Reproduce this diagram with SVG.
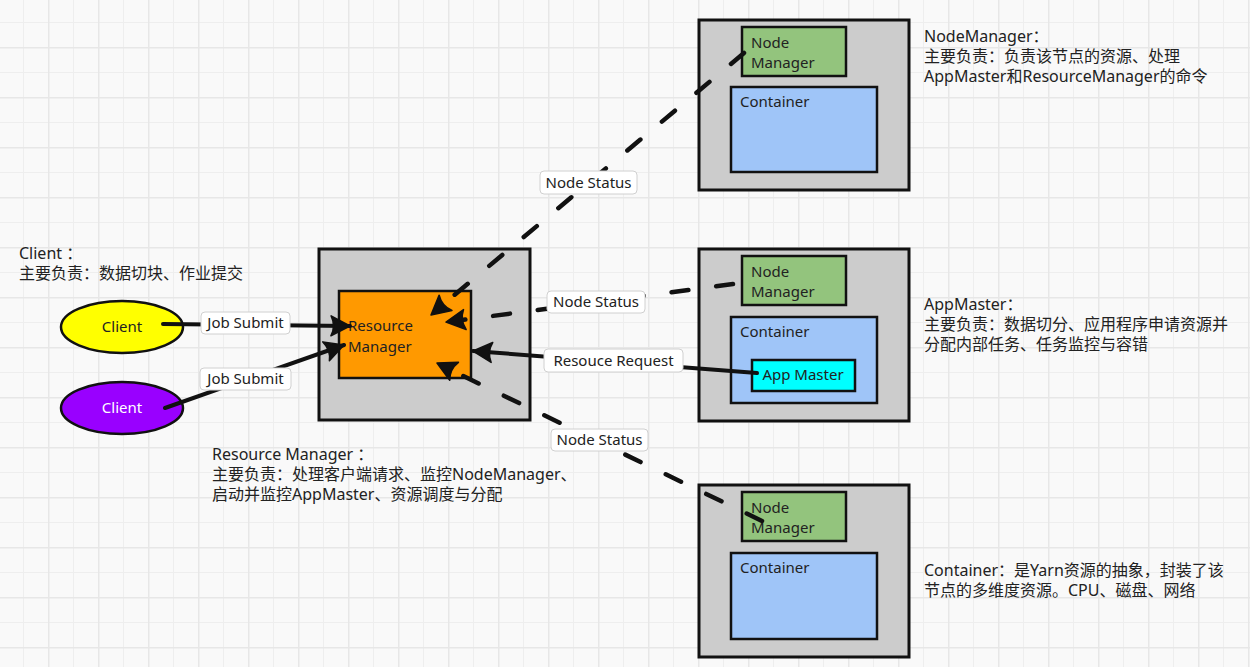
<svg xmlns="http://www.w3.org/2000/svg" width="1250" height="667" viewBox="0 0 1250 667">
<style>
text{font-family:"Noto Sans","Noto Sans CJK SC",sans-serif;fill:#222;}
.desc{font-size:16px;}
.lbl{font-size:15px;}
.nt{font-size:15px;}
.outer{fill:#cccccc;stroke:#111;stroke-width:3;}
.nm{fill:#93c47d;stroke:#111;stroke-width:2.5;}
.ct{fill:#9fc5f8;stroke:#111;stroke-width:2.5;}
.lbox{fill:#fff;stroke:#d0d0d0;stroke-width:1;}
.dash{fill:none;stroke:#111;stroke-width:4.5;stroke-linecap:round;stroke-dasharray:17 28;}
.solid{fill:none;stroke:#111;stroke-width:4;stroke-linecap:round;}
.head{fill:#111;stroke:#111;stroke-width:1.5;stroke-linejoin:round;}
</style>
<defs>
<pattern id="grid" patternUnits="userSpaceOnUse" x="48" y="47" width="50" height="50">
<rect x="0" y="0" width="50" height="50" fill="#f9f9f9"/>
<rect x="25" y="0" width="1" height="50" fill="#eeeeee"/>
<rect x="0" y="25" width="50" height="1" fill="#eeeeee"/>
<rect x="0" y="0" width="1.5" height="50" fill="#e7e7e7"/>
<rect x="0" y="0" width="50" height="1.5" fill="#e7e7e7"/>
</pattern>
<path id="headshape" class="head" d="M0 0 L-19 -10 Q-14 0 -19 10 Z"/>
<marker id="ah" markerUnits="userSpaceOnUse" markerWidth="28" markerHeight="28" viewBox="-24 -14 28 28" refX="0" refY="0" orient="auto">
<path class="head" d="M0 0 L-19 -10 Q-14 0 -19 10 Z"/>
</marker>
</defs>
<rect width="1250" height="667" fill="url(#grid)"/>

<g id="rm">
<rect class="outer" x="319" y="249" width="211" height="171"/>
<rect x="339" y="291" width="132" height="87" fill="#ff9900" stroke="#111" stroke-width="2.5"/>
<text class="nt" x="348" y="331">Resource</text>
<text class="nt" x="348" y="352">Manager</text>
</g>

<g id="client1">
<ellipse cx="122" cy="327" rx="61" ry="26" fill="#ffff00" stroke="#111" stroke-width="2.5"/>
<text class="nt" x="122" y="332" text-anchor="middle">Client</text>
</g>
<g id="client2">
<ellipse cx="122" cy="408" rx="61" ry="26" fill="#9900ff" stroke="#111" stroke-width="2.5"/>
<text class="nt" x="122" y="413" text-anchor="middle" style="fill:#fff">Client</text>
</g>

<g id="node1">
<rect class="outer" x="699" y="20" width="210" height="170"/>
<rect class="nm" x="742" y="27" width="104" height="49"/>
<text class="nt" x="751" y="48">Node</text>
<text class="nt" x="751" y="68">Manager</text>
<rect class="ct" x="731" y="87" width="146" height="85"/>
<text class="nt" x="740" y="107">Container</text>
</g>

<g id="node2">
<rect class="outer" x="699" y="249" width="210" height="172"/>
<rect class="nm" x="742" y="256" width="104" height="49"/>
<text class="nt" x="751" y="277">Node</text>
<text class="nt" x="751" y="297">Manager</text>
<rect class="ct" x="731" y="317" width="146" height="86"/>
<text class="nt" x="740" y="337">Container</text>
<g id="appmaster">
<rect x="752" y="360" width="103" height="31" fill="#00ffff" stroke="#111" stroke-width="2.5"/>
<text class="nt" x="803" y="380" text-anchor="middle">App Master</text>
</g>
</g>

<g id="node3">
<rect class="outer" x="699" y="485" width="210" height="172"/>
<rect class="nm" x="742" y="492" width="104" height="49"/>
<text class="nt" x="751" y="513">Node</text>
<text class="nt" x="751" y="533">Manager</text>
<rect class="ct" x="731" y="553" width="146" height="86"/>
<text class="nt" x="740" y="573">Container</text>
</g>

<g id="connectors">
<path class="solid" d="M163 324 L350 326" marker-end="url(#ah)"/>
<path class="solid" d="M165 408 L344 345" marker-end="url(#ah)"/>
<path class="dash" d="M744 53 L446 302"/>
<use href="#headshape" transform="translate(431 315) rotate(140.1)"/>
<path class="dash" d="M733 284 L462 320"/>
<use href="#headshape" transform="translate(446 322) rotate(172.5)"/>
<path class="dash" d="M762 521 L453 371"/>
<use href="#headshape" transform="translate(437 363) rotate(-154.1)"/>
<path class="solid" d="M757 373 L473 351" marker-end="url(#ah)"/>
</g>

<g id="labels">
<rect class="lbox" x="201" y="312" width="89" height="22" rx="4"/>
<text class="lbl" x="245.5" y="328" text-anchor="middle">Job Submit</text>
<rect class="lbox" x="200" y="368" width="91" height="22" rx="4"/>
<text class="lbl" x="245.5" y="384" text-anchor="middle">Job Submit</text>
<rect class="lbox" x="540" y="171" width="97" height="23" rx="4"/>
<text class="lbl" x="588.5" y="187.5" text-anchor="middle">Node Status</text>
<rect class="lbox" x="547" y="291" width="98" height="22" rx="4"/>
<text class="lbl" x="596" y="307" text-anchor="middle">Node Status</text>
<rect class="lbox" x="544" y="349" width="139" height="23" rx="4"/>
<text class="lbl" x="613.5" y="365.5" text-anchor="middle">Resouce Request</text>
<rect class="lbox" x="551" y="429" width="97" height="22" rx="4"/>
<text class="lbl" x="599.5" y="445" text-anchor="middle">Node Status</text>
</g>

<g id="descriptions">
<text class="desc" x="19" y="259">Client ：</text>
<text class="desc" x="19" y="279">主要负责：数据切块、作业提交</text>
<text class="desc" x="212" y="460">Resource Manager ：</text>
<text class="desc" x="212" y="480">主要负责：处理客户端请求、监控NodeManager、</text>
<text class="desc" x="212" y="500">启动并监控AppMaster、资源调度与分配</text>
<text class="desc" x="924" y="42">NodeManager：</text>
<text class="desc" x="924" y="62">主要负责：负责该节点的资源、处理</text>
<text class="desc" x="924" y="82">AppMaster和ResourceManager的命令</text>
<text class="desc" x="924" y="310">AppMaster：</text>
<text class="desc" x="924" y="330">主要负责：数据切分、应用程序申请资源并</text>
<text class="desc" x="924" y="350">分配内部任务、任务监控与容错</text>
<text class="desc" x="924" y="576">Container：是Yarn资源的抽象，封装了该</text>
<text class="desc" x="924" y="596">节点的多维度资源。CPU、磁盘、网络</text>
</g>
</svg>
